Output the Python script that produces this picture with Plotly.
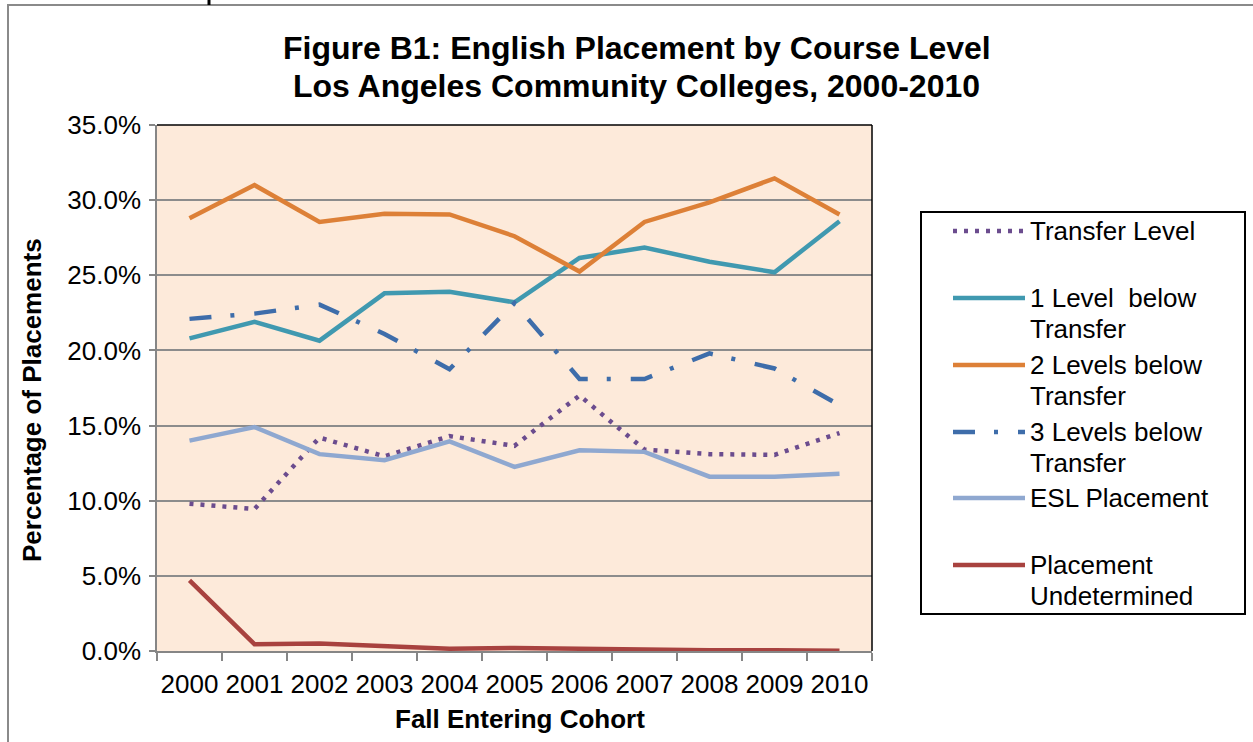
import plotly.graph_objects as go

# ---------------- data (percent of placements) ----------------
years = ["2000", "2001", "2002", "2003", "2004", "2005", "2006", "2007", "2008", "2009", "2010"]
transfer_level = [9.8, 9.45, 14.2, 12.95, 14.3, 13.65, 17.0, 13.4, 13.1, 13.05, 14.5]
one_below = [20.8, 21.9, 20.65, 23.8, 23.9, 23.2, 26.15, 26.85, 25.9, 25.2, 28.6]
two_below = [28.8, 31.0, 28.55, 29.1, 29.05, 27.6, 25.25, 28.55, 29.85, 31.45, 29.05]
three_below = [22.1, 22.45, 23.05, 21.1, 18.75, 23.15, 18.1, 18.1, 19.8, 18.8, 16.35]
esl_placement = [14.0, 14.9, 13.1, 12.7, 13.95, 12.25, 13.35, 13.25, 11.6, 11.6, 11.8]
undetermined = [4.7, 0.45, 0.5, 0.3, 0.15, 0.2, 0.15, 0.05, 0.05, 0.05, 0.02]

series_names = ["Transfer Level", "1 Level  below Transfer", "2 Levels below Transfer",
                "3 Levels below Transfer", "ESL Placement", "Placement Undetermined"]
legend_lines = [["Transfer Level"], ["1 Level  below", "Transfer"], ["2 Levels below", "Transfer"],
                ["3 Levels below", "Transfer"], ["ESL Placement"], ["Placement", "Undetermined"]]
series_values = [transfer_level, one_below, two_below, three_below, esl_placement, undetermined]
colors = ["#6B4C8E", "#4099B0", "#DD8037", "#3E6DAA", "#8FA8D0", "#A8423F"]
dashes = ["4px,7px", "solid", "solid", "22px,19px,4px,20px", "solid", "solid"]
y_ticks = [0, 5, 10, 15, 20, 25, 30, 35]
y_tick_labels = ["0.0%", "5.0%", "10.0%", "15.0%", "20.0%", "25.0%", "30.0%", "35.0%"]

title_lines = ["Figure B1: English Placement by Course Level",
               "Los Angeles Community Colleges, 2000-2010"]
x_title = "Fall Entering Cohort"
y_title = "Percentage of Placements"

# ---------------- layout geometry (pixels) ----------------
W, H = 1253, 742
PL, PR, PT, PB = 157, 872, 125, 651
FONT = "Liberation Sans, Arial, sans-serif"


def px2x(px):
    return (px - PL) / (PR - PL)


def py2y(py):
    return (PB - py) / (PB - PT)


fig = go.Figure()
for name, vals, col, dash in zip(series_names, series_values, colors, dashes):
    fig.add_trace(go.Scatter(x=years, y=vals, mode="lines", name=name,
                             line=dict(color=col, width=4.5, dash=dash),
                             showlegend=False, hoverinfo="x+y+name"))

shapes = []
annotations = []

# outer chart border (extends past the page edges)
shapes.append(dict(type="rect", xref="paper", yref="paper",
                   x0=px2x(8), x1=px2x(1275), y0=py2y(5), y1=py2y(760),
                   line=dict(color="#8A8A8A", width=2), fillcolor="rgba(0,0,0,0)", layer="below"))
# small stray mark at top
shapes.append(dict(type="line", xref="paper", yref="paper",
                   x0=px2x(209), x1=px2x(209), y0=py2y(0), y1=py2y(5),
                   line=dict(color="black", width=3)))
# plot area top / right border
shapes.append(dict(type="line", xref="paper", yref="paper", x0=0, x1=1, y0=1, y1=1,
                   line=dict(color="black", width=1.5)))
shapes.append(dict(type="line", xref="paper", yref="paper", x0=1, x1=1, y0=0, y1=1,
                   line=dict(color="black", width=1.5)))

# legend box
shapes.append(dict(type="rect", xref="paper", yref="paper",
                   x0=px2x(921), x1=px2x(1245), y0=py2y(212), y1=py2y(614),
                   line=dict(color="black", width=2), fillcolor="white"))
entry_y = [231, 298, 365, 432, 498, 565]
for lines, col, dash, ey in zip(legend_lines, colors, dashes, entry_y):
    shapes.append(dict(type="line", xref="paper", yref="paper",
                       x0=px2x(953), x1=px2x(1025), y0=py2y(ey), y1=py2y(ey),
                       line=dict(color=col, width=4.5, dash=dash)))
    for i, txt in enumerate(lines):
        annotations.append(dict(xref="paper", yref="paper", x=px2x(1028), y=py2y(ey + 30.5 * i),
                                xanchor="left", yanchor="middle", showarrow=False, text=txt,
                                font=dict(family=FONT, size=26, color="black")))

# titles
for i, txt in enumerate(title_lines):
    annotations.append(dict(xref="paper", yref="paper", x=px2x(636.5), y=py2y(48 + 38 * i),
                            xanchor="center", yanchor="middle", showarrow=False,
                            text="<b>" + txt + "</b>", font=dict(family=FONT, size=32, color="black")))
annotations.append(dict(xref="paper", yref="paper", x=px2x(520), y=py2y(719),
                        xanchor="center", yanchor="middle", showarrow=False,
                        text="<b>" + x_title + "</b>", font=dict(family=FONT, size=26, color="black")))
annotations.append(dict(xref="paper", yref="paper", x=px2x(32), y=py2y(400),
                        xanchor="center", yanchor="middle", showarrow=False, textangle=-90,
                        text="<b>" + y_title + "</b>", font=dict(family=FONT, size=26, color="black")))

fig.update_layout(
    width=W, height=H,
    margin=dict(l=PL, r=W - PR, t=PT, b=H - PB, pad=0),
    paper_bgcolor="white", plot_bgcolor="#FDEADA",
    showlegend=False,
    font=dict(family=FONT, size=26, color="black"),
    shapes=shapes, annotations=annotations,
)
fig.update_xaxes(type="category", range=[-0.5, 10.5], tickson="boundaries",
                 ticks="outside", ticklen=8, tickwidth=1.5, tickcolor="#868686",
                 showline=True, linecolor="#868686", linewidth=1.5, showgrid=False,
                 tickangle=0,
                 tickfont=dict(family=FONT, size=26, color="black"), ticklabelstandoff=9)
fig.update_yaxes(range=[0, 35], tickmode="array", tickvals=y_ticks, ticktext=y_tick_labels,
                 ticks="outside", ticklen=6, tickwidth=1.5, tickcolor="#868686",
                 showline=True, linecolor="#868686", linewidth=1.5,
                 showgrid=True, gridcolor="#8C8C8C", gridwidth=1.5, zeroline=False,
                 tickfont=dict(family=FONT, size=26, color="black"), ticklabelstandoff=3)

fig.write_html("out.html", config={"displayModeBar": False},
               post_script="document.body.style.margin='0';document.body.style.overflow='hidden';")
